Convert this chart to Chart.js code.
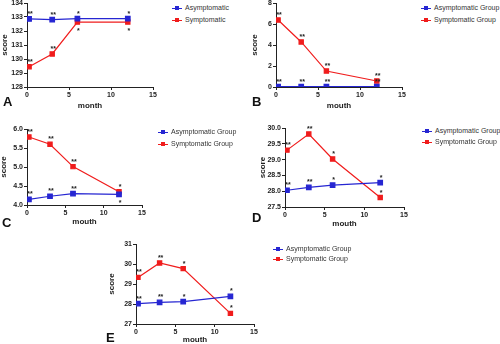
<!DOCTYPE html>
<html>
<head>
<meta charset="utf-8">
<script src="https://cdn.jsdelivr.net/npm/chart.js@4/dist/chart.umd.min.js"></script>
<style>
body{margin:0;background:#fff;width:500px;height:344px;position:relative;overflow:hidden;font-family:"Liberation Sans",Arial,sans-serif}
canvas,.legend,.tag{position:absolute}
.tag{font-weight:bold;font-size:13px;line-height:13px;color:#111}
.legend .row{position:absolute;left:0;white-space:nowrap;font-size:7px;line-height:10px;color:#333}
.legend .ic{display:inline-block;position:relative;width:10px;height:10px;vertical-align:top;margin-right:3px}
.legend .ic i{position:absolute;display:block}
</style>
</head>
<body>
<canvas id="cA"></canvas>
<canvas id="cB"></canvas>
<canvas id="cC"></canvas>
<canvas id="cD"></canvas>
<canvas id="cE"></canvas>
<div class="tag" style="left:3px;top:95px">A</div>
<div class="tag" style="left:252px;top:95px">B</div>
<div class="tag" style="left:2px;top:216px">C</div>
<div class="tag" style="left:252px;top:211px">D</div>
<div class="tag" style="left:106px;top:331px">E</div>
<script>
// time points (months)
const months = [0.25, 3, 6, 12];

// A
const asymA = [132.86, 132.81, 132.88, 132.88];
const symA = [129.45, 130.36, 132.64, 132.64];
// B
const asymB = [0.03, 0.03, 0.03, 0.03];
const symB = [6.38, 4.29, 1.52, 0.57];
// C
const asymC = [4.15, 4.23, 4.30, 4.28];
const symC = [5.79, 5.60, 5.01, 4.35];
// D
const asymD = [28.03, 28.12, 28.19, 28.27];
const symD = [29.30, 29.81, 29.02, 27.80];
// E
const asymE = [28.02, 28.08, 28.12, 28.38];
const symE = [29.33, 30.05, 29.77, 27.53];

// significance marks and whether they sit below the point
const starsAsymA = ['**', '**', '*', '*'], belowAsymA = [0, 0, 0, 0];
const starsSymA = ['**', '**', '*', '*'], belowSymA = [0, 0, 1, 1];
const starsAsymB = ['**', '**', '**', '**'], belowAsymB = [0, 0, 0, 0];
const starsSymB = ['**', '**', '**', '**'], belowSymB = [0, 0, 0, 0];
const starsAsymC = ['**', '**', '**', '*'], belowAsymC = [0, 0, 0, 1];
const starsSymC = ['**', '**', '**', '*'], belowSymC = [0, 0, 0, 0];
const starsAsymD = ['**', '**', '*', '*'], belowAsymD = [0, 0, 0, 0];
const starsSymD = ['**', '**', '*', '*'], belowSymD = [0, 0, 0, 0];
const starsAsymE = ['**', '**', '*', '*'], belowAsymE = [0, 0, 0, 0];
const starsSymE = ['**', '**', '*', '*'], belowSymE = [0, 0, 0, 0];

const BLUE = '#2626d2';
const RED = '#f01c1c';
const FONT = '"Liberation Sans", Arial, sans-serif';

const starPlugin = {
    id: 'stars',
    afterDatasetsDraw(chart) {
        const ctx = chart.ctx;
        ctx.save();
        ctx.font = 'bold 7px ' + FONT;
        ctx.fillStyle = '#222';
        ctx.textAlign = 'center';
        ctx.textBaseline = 'alphabetic';
        chart.data.datasets.forEach(function (ds, i) {
            chart.getDatasetMeta(i).data.forEach(function (pt, j) {
                ctx.fillText(ds.stars[j], pt.x + 1, ds.below[j] ? pt.y + 11 : pt.y - 3);
            });
        });
        ctx.restore();
    }
};

function pts(vals) {
    return vals.map(function (v, i) { return {x: months[i], y: v}; });
}

function panel(id, g, names, asym, sym, sa, ba, ss, bs, y) {
    const left = Math.round(g.sx - 5);
    const yw = g.L - left;
    const xh = g.my + 5 - g.B;
    const cv = document.getElementById(id);
    cv.width = yw + (g.R - g.L) + 6;
    cv.height = 6 + (g.B - g.T) + xh;
    cv.style.left = left + 'px';
    cv.style.top = (g.T - 6) + 'px';

    const axisBits = {
        grid: {drawOnChartArea: false, color: '#222', tickLength: 3},
        border: {color: '#222', width: 1}
    };
    const chart = new Chart(cv, {
        type: 'line',
        data: {
            datasets: [
                {label: names[0], data: pts(asym), stars: sa, below: ba, borderColor: BLUE, backgroundColor: BLUE,
                    borderWidth: 1.2, pointStyle: 'rect', pointRadius: 3.2, tension: 0},
                {label: names[1], data: pts(sym), stars: ss, below: bs, borderColor: RED, backgroundColor: RED,
                    borderWidth: 1.2, pointStyle: 'rect', pointRadius: 3, tension: 0}
            ]
        },
        options: {
            responsive: false,
            animation: false,
            devicePixelRatio: 1,
            events: [],
            layout: {padding: {top: 6, right: 6, left: 0, bottom: 0}},
            plugins: {legend: {display: false}, tooltip: {enabled: false}},
            scales: {
                x: Object.assign({
                    type: 'linear', min: 0, max: 15,
                    ticks: {stepSize: 5, padding: 1, color: '#222', font: {family: FONT, size: 7, weight: 'bold'}},
                    title: {display: true, text: g.xt, color: '#222', padding: 0, font: {family: FONT, size: 8, weight: 'bold'}},
                    afterFit: function (s) { s.height = xh; }
                }, axisBits),
                y: Object.assign({
                    min: y[0], max: y[1],
                    ticks: {stepSize: y[2], padding: 1, color: '#222', font: {family: FONT, size: 7, weight: 'bold'},
                        callback: function (v) { return y[3] ? v.toFixed(y[3]) : v; }},
                    title: {display: true, text: 'score', color: '#222', padding: 0, font: {family: FONT, size: 8, weight: 'bold'}},
                    afterFit: function (s) { s.width = yw; }
                }, axisBits)
            }
        },
        plugins: [starPlugin]
    });

    // legend in html, built from the chart's datasets
    const wrap = document.createElement('div');
    wrap.className = 'legend';
    wrap.style.left = g.lx + 'px';
    wrap.style.top = (g.ly - 5) + 'px';
    chart.data.datasets.forEach(function (ds, i) {
        const row = document.createElement('div');
        row.className = 'row';
        row.style.top = (i * g.lg) + 'px';
        row.innerHTML = '<span class="ic"><i style="left:0;top:4.5px;width:10px;height:1.2px;background:' + ds.borderColor +
            '"></i><i style="left:3px;top:3px;width:4px;height:4px;background:' + ds.borderColor + '"></i></span>' + ds.label;
        wrap.appendChild(row);
    });
    document.body.appendChild(wrap);
}

const short = ['Asymptomatic', 'Symptomatic'];
const grp = ['Asymptomatic Group', 'Symptomatic Group'];

panel('cA', {L: 27, R: 153, T: 3, B: 87, sx: 5, my: 106, xt: 'month', lx: 172, ly: 8, lg: 12},
    short, asymA, symA, starsAsymA, belowAsymA, starsSymA, belowSymA, [128, 134, 1, 0]);
panel('cB', {L: 276, R: 402, T: 3, B: 87, sx: 255, my: 106, xt: 'mouth', lx: 421, ly: 8, lg: 12},
    grp, asymB, symB, starsAsymB, belowAsymB, starsSymB, belowSymB, [0, 8, 2, 0]);
panel('cC', {L: 27, R: 142, T: 129, B: 205, sx: 4, my: 222, xt: 'mouth', lx: 158, ly: 132, lg: 12},
    grp, asymC, symC, starsAsymC, belowAsymC, starsSymC, belowSymC, [4, 6, 0.5, 1]);
panel('cD', {L: 285, R: 404, T: 128, B: 207, sx: 263, my: 224, xt: 'mouth', lx: 422, ly: 131, lg: 11},
    grp, asymD, symD, starsAsymD, belowAsymD, starsSymD, belowSymD, [27.5, 30, 0.5, 1]);
panel('cE', {L: 136, R: 254, T: 244, B: 324, sx: 112, my: 340, xt: 'mouth', lx: 273, ly: 249, lg: 10},
    grp, asymE, symE, starsAsymE, belowAsymE, starsSymE, belowSymE, [27, 31, 1, 0]);
</script>
</body>
</html>
